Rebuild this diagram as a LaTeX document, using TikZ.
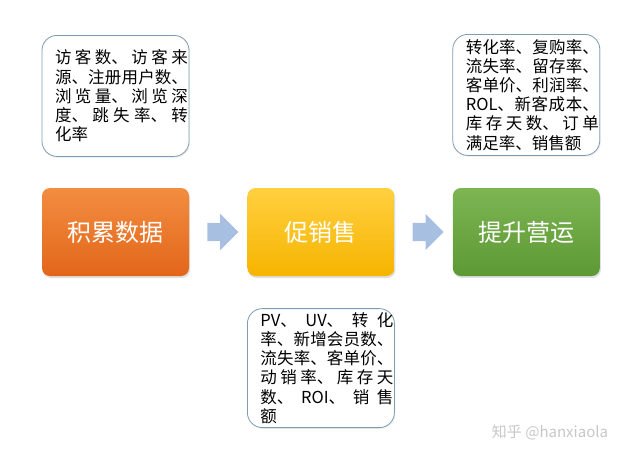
\documentclass[tikz,border=0pt]{standalone}
\usepackage{fontspec}
\newfontfamily\cjk{Noto Sans CJK SC}
\XeTeXlinebreaklocale "zh"
\XeTeXlinebreakskip=0pt plus 12pt
\usetikzlibrary{positioning,shapes.arrows,shadows,calc}
\definecolor{boxline}{HTML}{7F9CB3}
\definecolor{arrowblue}{HTML}{A7BFE0}
\definecolor{orangetop}{HTML}{F28D40}
\definecolor{orangebot}{HTML}{E2661A}
\definecolor{yellowtop}{HTML}{FFD040}
\definecolor{yellowbot}{HTML}{F6B400}
\definecolor{greentop}{HTML}{7DB553}
\definecolor{greenbot}{HTML}{5C9935}
\tikzset{
  stage/.style={rounded corners=8pt, minimum width=147pt, minimum height=88pt,
    text=white, font={\cjk\fontsize{24}{28}\selectfont},
    drop shadow={opacity=0.25, shadow xshift=1pt, shadow yshift=-2pt}},
  note/.style={draw=boxline, line width=0.8pt, rounded corners=15pt, fill=white,
    minimum width=147pt, minimum height=121pt, text width=145pt, inner sep=0pt,
    align=justify, font={\cjk\fontsize{16.5}{19.2}\selectfont},
    execute at begin node={\leftskip=12pt},
    drop shadow={opacity=0.12, shadow xshift=1pt, shadow yshift=-1.5pt}},
  flow/.style={single arrow, fill=arrowblue, minimum height=31pt, minimum width=36pt,
    single arrow head extend=9pt, inner xsep=0pt, inner ysep=9pt},
  wmark/.style={text=black!22, font={\cjk\fontsize{15}{18}\selectfont}}
}
\begin{document}
\begin{tikzpicture}[x=1pt,y=-1pt]
\useasboundingbox (0,0) rectangle (640,458);

% Stages
\node[stage, top color=orangetop, bottom color=orangebot] (collect) at (115.5,232) {积累数据};
\node[stage, top color=yellowtop, bottom color=yellowbot, right=58pt of collect] (promote) {促销售};
\node[stage, top color=greentop, bottom color=greenbot, right=58pt of promote] (improve) {提升营运};

% Arrows between stages
\node[flow] (flowa) at ($(collect.east)!0.5!(promote.west)$) {};
\node[flow] (flowb) at ($(promote.east)!0.5!(improve.west)$) {};

% Metric boxes
\node[note, above=31pt of collect] (collectnote) {访客数、访客来\linebreak 源、注册用户数、\linebreak 浏览量、浏览深\linebreak 度、跳失率、转\linebreak 化率};
\node[note, below=32pt of promote, minimum height=119pt] (promotenote) {PV、UV、转化\linebreak 率、新增会员数、\linebreak 流失率、客单价、\linebreak 动销率、库存天\linebreak 数、ROI、销售\linebreak 额};
\node[note, above=32pt of improve] (improvenote) {转化率、复购率、\linebreak 流失率、留存率、\linebreak 客单价、利润率、\linebreak ROL、新客成本、\linebreak 库存天数、订单\linebreak 满足率、销售额};

% Watermark
\node[wmark] (credit) at (550,432) {知乎 @hanxiaola};
\end{tikzpicture}
\end{document}
